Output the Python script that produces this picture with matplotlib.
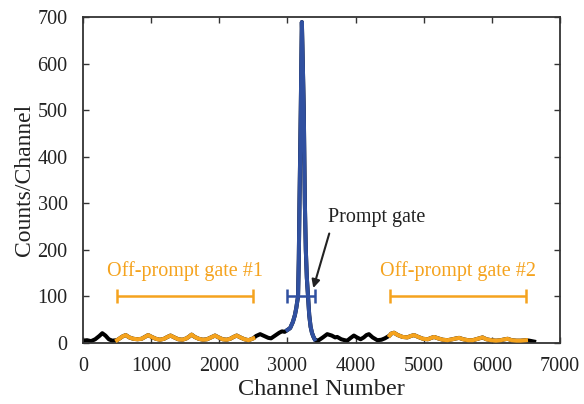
import numpy as np
import matplotlib.pyplot as plt

plt.rcParams['font.family'] = ['Liberation Serif', 'DejaVu Serif']

# spectrum (channel, counts)
channel = [0, 60, 120, 180, 240, 284, 330, 380, 430, 500, 530, 580, 628, 680, 740,
           800, 860, 910, 957, 1010, 1070, 1130, 1190, 1240, 1285, 1340, 1400, 1460,
           1520, 1560, 1594, 1640, 1700, 1760, 1820, 1880, 1938, 1990, 2050, 2110,
           2160, 2210, 2256, 2310, 2370, 2430, 2500, 2540, 2600, 2660, 2720, 2760,
           2820, 2880, 2920, 2960, 3000, 3040, 3080, 3110, 3130, 3145, 3156, 3167,
           3177, 3187, 3196, 3204, 3212, 3220, 3230, 3240, 3248, 3256, 3270, 3285,
           3303, 3320, 3340, 3360, 3380, 3400, 3420, 3460, 3520, 3584, 3650, 3700,
           3731, 3790, 3840, 3878, 3920, 3975, 4020, 4074, 4120, 4160, 4196, 4250,
           4319, 4380, 4430, 4500, 4520, 4564, 4620, 4690, 4760, 4810, 4858, 4920,
           4990, 5060, 5110, 5152, 5210, 5280, 5350, 5420, 5480, 5520, 5580, 5650,
           5720, 5790, 5863, 5920, 5990, 6060, 6130, 6190, 6231, 6290, 6360, 6420,
           6500, 6550, 6620]
counts = [5, 6, 4, 8, 15, 21, 16, 8, 5, 6, 9, 14, 17, 12, 9,
          8, 9, 13, 17, 13, 9, 7, 9, 13, 16, 12, 8, 7,
          10, 14, 18, 13, 9, 7, 8, 12, 16, 12, 8, 7,
          9, 13, 16, 12, 8, 6, 10, 15, 19, 15, 11, 10,
          16, 22, 25, 24, 28, 32, 45, 60, 75, 90, 100, 180,
          300, 400, 500, 600, 689, 640, 570, 500, 400, 300, 200, 140,
          100, 60, 35, 22, 14, 8, 5, 6, 12, 19, 16, 12,
          13, 8, 6, 5, 10, 16, 12, 8, 12, 17, 19, 12,
          6, 7, 10, 16, 20, 22, 17, 13, 12, 15, 17, 13,
          9, 8, 11, 13, 10, 7, 6, 8, 10, 11, 8, 6,
          6, 9, 12, 8, 6, 5, 6, 8, 9, 6, 5, 5,
          6, 5, 3]

# gates (start, end)
off_gate_1 = (500, 2500)
prompt_gate = (3000, 3400)
off_gate_2 = (4500, 6500)
gate_level = 100

orange = "#F5A31E"
blue = "#3050A0"

x = np.array(channel)
y = np.array(counts)

fig = plt.figure(figsize=(5.84, 4.04), dpi=100)
ax = fig.add_axes([0.142, 0.151, 0.817, 0.807])

# whole spectrum in black, gates drawn over it
ax.plot(x, y, color="black", lw=2.9, solid_joinstyle="round", zorder=2)
for (a, b), c in [(off_gate_1, orange), (off_gate_2, orange), (prompt_gate, blue)]:
    m = (x >= a) & (x <= b)
    ax.plot(x[m], y[m], color=c, lw=2.9, solid_joinstyle="round", zorder=3)

# gate bars
for (a, b), c in [(off_gate_1, orange), (off_gate_2, orange), (prompt_gate, blue)]:
    ax.errorbar((a + b) / 2, gate_level, xerr=(b - a) / 2, color=c, lw=1.8,
                capsize=5, capthick=1.8, fmt="none", zorder=4)

ax.text(1500, 155, "Off-prompt gate #1", color=orange, fontsize=14.5, ha="center", va="center")
ax.text(5500, 155, "Off-prompt gate #2", color=orange, fontsize=14.5, ha="center", va="center")
ax.annotate("Prompt gate", xy=(3380, 118), xytext=(3600, 270), fontsize=14.5,
            color="#222222", ha="left", va="center",
            arrowprops=dict(arrowstyle="-|>", color="#222222", lw=1.5,
                            mutation_scale=12, shrinkA=3, shrinkB=0,
                            relpos=(0.03, 0.0)))

ax.set_xlim(0, 7000)
ax.set_ylim(0, 700)
ax.set_xticks(np.arange(0, 7001, 1000))
ax.set_yticks(np.arange(0, 701, 100))
ax.tick_params(direction="in", top=True, right=True, length=4, width=1,
               labelsize=14.5, colors="#333333", labelcolor="#222222")
ax.tick_params(axis="x", pad=10)
ax.tick_params(axis="y", pad=11)
for s in ax.spines.values():
    s.set_color("#333333")
    s.set_linewidth(1.3)

ax.set_xlabel("Channel Number", fontsize=17.5, color="#222222", labelpad=2)
ax.set_ylabel("Counts/Channel", fontsize=17, color="#222222", labelpad=2)

plt.savefig("out.png", dpi=100)
